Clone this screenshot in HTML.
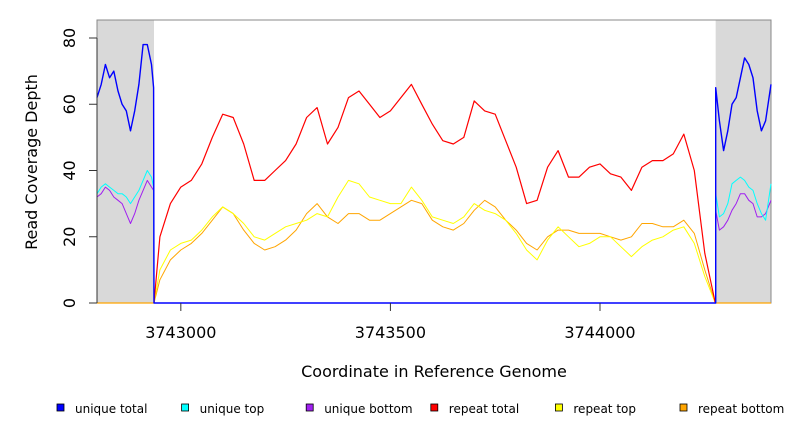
<!DOCTYPE html>
<html><head><meta charset="utf-8"><style>
body{margin:0;background:#fff;}
svg{display:block;font-family:"DejaVu Sans","Liberation Sans",sans-serif;}
</style></head><body>
<svg id="chart" width="792" height="432" viewBox="0 0 792 432" xmlns="http://www.w3.org/2000/svg">
<g id="plot"></g>
<g id="axes"></g>
<text x="434" y="377" font-size="16" text-anchor="middle" fill="#000">Coordinate in Reference Genome</text>
<text transform="translate(37,162) rotate(-90)" font-size="16" text-anchor="middle" fill="#000">Read Coverage Depth</text>
<g id="legend"></g>
</svg>
<script>
const xTicks=[3743000,3743500,3744000];
const xTickLabels=["3743000","3743500","3744000"];
const yTicks=[0,20,40,60,80];
const yTickLabels=["0","20","40","60","80"];
const greyRegions=[[3742800,3742936],[3744276,3744408]];
const repeatX=[3742936,3742950,3742975,3743000,3743025,3743050,3743075,3743100,3743125,3743150,3743175,3743200,3743225,3743250,3743275,3743300,3743325,3743350,3743375,3743400,3743425,3743450,3743475,3743500,3743525,3743550,3743575,3743600,3743625,3743650,3743675,3743700,3743725,3743750,3743775,3743800,3743825,3743850,3743875,3743900,3743925,3743950,3743975,3744000,3744025,3744050,3744075,3744100,3744125,3744150,3744175,3744200,3744225,3744250,3744275];
const repeatTotal=[0,20,30,35,37,42,50,57,56,48,37,37,40,43,48,56,59,48,53,62,64,60,56,58,62,66,60,54,49,48,50,61,58,57,49,41,30,31,41,46,38,38,41,42,39,38,34,41,43,43,45,51,40,15,0];
const repeatTop=[0,10,16,18,19,22,26,29,27,24,20,19,21,23,24,25,27,26,32,37,36,32,31,30,30,35,31,26,25,24,26,30,28,27,25,21,16,13,19,23,20,17,18,20,20,17,14,17,19,20,22,23,18,8,0];
const repeatBottom=[0,7,13,16,18,21,25,29,27,22,18,16,17,19,22,27,30,26,24,27,27,25,25,27,29,31,30,25,23,22,24,28,31,29,25,22,18,16,20,22,22,21,21,21,20,19,20,24,24,23,23,25,21,10,0];
const uniqueX=[3742800,3742810,3742820,3742830,3742840,3742850,3742860,3742870,3742880,3742890,3742900,3742910,3742920,3742930,3742935,3742936,3744276,3744276,3744285,3744295,3744305,3744315,3744325,3744335,3744345,3744355,3744365,3744375,3744385,3744395,3744408];
const uniqueTotal=[62,66,72,68,70,64,60,58,52,58,66,78,78,72,65,0,0,65,55,46,52,60,62,68,74,72,68,58,52,55,66];
const uniqueTop=[33,35,36,35,34,33,33,32,30,32,34,37,40,38,35,0,0,33,26,27,30,36,37,38,37,35,34,30,27,25,36];
const uniqueBottom=[32,33,35,34,32,31,30,27,24,27,31,34,37,35,34,0,0,28,22,23,25,28,30,33,33,31,30,26,26,27,31];
const legendLabels=["unique total","unique top","unique bottom","repeat total","repeat top","repeat bottom"];
const legendColors=["#0000ff","#00ffff","#a020f0","#ff0000","#ffff00","#ffa500"];

const NS="http://www.w3.org/2000/svg";
const X0=97,X1=771,Y0=303,YT=20;
const xmin=3742800,xmax=3744408;
function sx(v){return X0+(v-xmin)/(xmax-xmin)*(X1-X0);}
function sy(v){return Y0-v*3.3125;}
function mk(tag,attrs,parent){const e=document.createElementNS(NS,tag);for(const k in attrs)e.setAttribute(k,attrs[k]);parent.appendChild(e);return e;}
const plot=document.getElementById('plot'),axes=document.getElementById('axes'),legend=document.getElementById('legend');
mk('rect',{x:X0,y:YT,width:X1-X0,height:Y0-YT,fill:'#fff'},plot);
greyRegions.forEach(r=>{
  const e=mk('rect',{x:sx(r[0]),y:YT,width:sx(r[1])-sx(r[0]),height:Y0-YT,fill:'#d9d9d9'},plot);
  
  
});
const border=mk('rect',{x:X0,y:YT,width:X1-X0,height:Y0-YT,fill:'none',stroke:'#888','stroke-width':1},plot);


function line(xs,ys,color,w,name){
  const pts=xs.map((x,i)=>sx(x).toFixed(1)+','+sy(ys[i]).toFixed(1)).join(' ');
  const e=mk('polyline',{points:pts,fill:'none',stroke:color,'stroke-width':w,'stroke-linejoin':'round'},plot);
  
  
}
const b1=mk('line',{x1:X0,x2:sx(3742936),y1:Y0,y2:Y0,stroke:'#ffa500','stroke-width':1.2},plot);


const b2=mk('line',{x1:sx(3744276),x2:X1,y1:Y0,y2:Y0,stroke:'#ffa500','stroke-width':1.2},plot);


line(repeatX,repeatBottom,'#ffa500',1,'repeat-bottom-line');
line(repeatX,repeatTop,'#ffff00',1,'repeat-top-line');
line(repeatX,repeatTotal,'#ff0000',1.2,'repeat-total-line');
line(uniqueX,uniqueBottom,'#a020f0',1,'unique-bottom-line');
line(uniqueX,uniqueTop,'#00ffff',1,'unique-top-line');
line(uniqueX,uniqueTotal,'#0000ff',1.4,'unique-total-line');
const ya=mk('line',{x1:X0,x2:X0,y1:sy(yTicks[0]),y2:sy(yTicks[yTicks.length-1]),stroke:'#333'},axes);


yTicks.forEach((v,i)=>{
  const t=mk('line',{x1:X0-8,x2:X0,y1:sy(v),y2:sy(v),stroke:'#333'},axes);
  
  
  const l=mk('text',{transform:`translate(75,${sy(v)}) rotate(-90)`,'font-size':16,'text-anchor':'middle',fill:'#000'},axes);
  l.textContent=yTickLabels[i];
  
  
});
xTicks.forEach((v,i)=>{
  const t=mk('line',{x1:sx(v),x2:sx(v),y1:Y0,y2:Y0+8,stroke:'#333'},axes);
  
  
  const l=mk('text',{x:sx(v),y:338,'font-size':16,'text-anchor':'middle',fill:'#000'},axes);
  l.textContent=xTickLabels[i];
  
  
});
legendLabels.forEach((lab,i)=>{
  const x=57+i*124.6;
  const r=mk('rect',{x:x,y:404,width:7,height:7,fill:legendColors[i],stroke:'#000','stroke-width':0.8},legend);
  
  
  const t=mk('text',{x:x+18,y:413,'font-size':12,fill:'#000'},legend);
  t.textContent=lab;
  
  
});
</script>
</body></html>
